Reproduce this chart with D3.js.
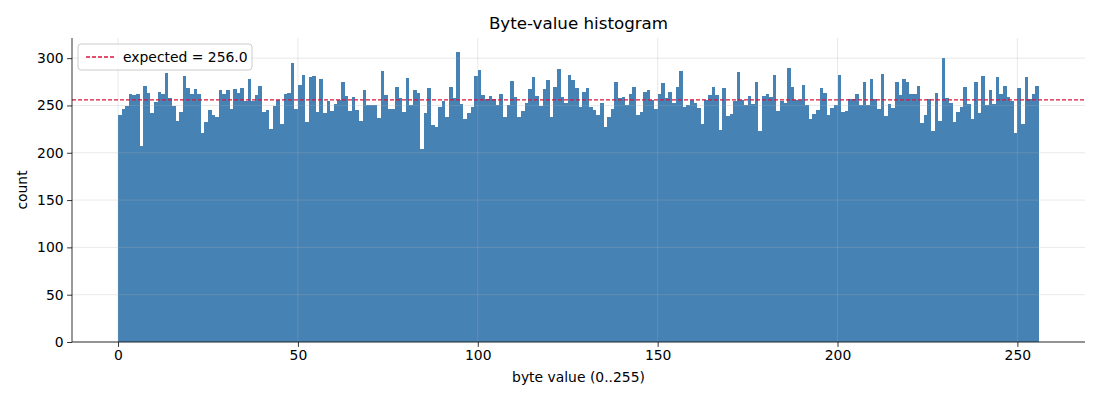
<!DOCTYPE html>
<html>
<head>
<meta charset="utf-8">
<script src="https://cdn.jsdelivr.net/npm/d3@7"></script>
<style>
  body { margin: 0; background: #fff; }
  svg { font-family: "DejaVu Sans", sans-serif; }
</style>
</head>
<body>
<svg id="chart"></svg>
<script>
// counts per byte value 0..255
const counts = [
  240, 246, 249, 262, 261, 262, 207, 271, 263, 242, 254, 264, 262, 284, 258, 249,
  234, 243, 281, 268, 262, 267, 262, 221, 232, 245, 240, 238, 266, 262, 266, 246,
  267, 263, 268, 255, 278, 255, 261, 271, 243, 245, 225, 249, 256, 230, 262, 263,
  295, 246, 272, 282, 233, 280, 281, 243, 278, 242, 255, 244, 252, 256, 275, 260,
  244, 259, 245, 234, 266, 251, 251, 251, 237, 286, 261, 246, 246, 270, 258, 243,
  279, 251, 266, 263, 204, 242, 268, 229, 227, 248, 255, 238, 270, 258, 306, 252,
  236, 242, 248, 281, 287, 261, 257, 260, 257, 251, 262, 238, 251, 276, 259, 238,
  244, 253, 267, 280, 260, 249, 267, 277, 238, 269, 289, 259, 253, 282, 277, 268,
  248, 264, 268, 248, 245, 240, 253, 227, 238, 246, 275, 258, 259, 251, 262, 269,
  240, 243, 264, 266, 256, 246, 262, 274, 258, 264, 253, 270, 286, 248, 251, 256,
  253, 247, 230, 256, 261, 269, 261, 224, 268, 239, 241, 255, 285, 256, 251, 260,
  252, 275, 223, 260, 262, 259, 282, 244, 255, 253, 290, 270, 256, 256, 272, 250,
  236, 241, 245, 268, 263, 240, 247, 250, 282, 243, 244, 257, 257, 262, 250, 275,
  250, 278, 257, 246, 283, 239, 252, 247, 275, 261, 278, 275, 262, 262, 271, 231,
  240, 257, 223, 263, 234, 300, 258, 253, 233, 243, 248, 269, 252, 236, 275, 242,
  281, 250, 266, 252, 280, 262, 271, 259, 255, 221, 268, 230, 280, 257, 262, 271
];
const expected = 256.0;
const xTicks = [0, 50, 100, 150, 200, 250];
const yTicks = [0, 50, 100, 150, 200, 250, 300];

const width = 1100;
const height = 400;
const margin = { top: 38, right: 15, bottom: 58, left: 72 };
const svg = d3.select("#chart").attr("width", width).attr("height", height);

const nBins = counts.length;
const xPad = nBins * 0.05;
const xScale = d3.scaleLinear()
  .domain([-xPad, nBins + xPad])
  .range([margin.left, width - margin.right]);

const yMax = d3.max(counts) * 1.05;
const yScale = d3.scaleLinear()
  .domain([0, yMax])
  .range([height - margin.bottom, margin.top]);

// bars, one per byte value
svg.append("g")
  .selectAll("rect")
  .data(counts)
  .enter()
  .append("rect")
  .attr("x", (d, i) => xScale(i))
  .attr("width", (d, i) => xScale(i + 1) - xScale(i))
  .attr("y", (d) => yScale(d))
  .attr("height", (d) => yScale(0) - yScale(d))
  .attr("fill", "#4682b4")
  .attr("shape-rendering", "crispEdges");

// grid drawn on top of the bars, faint
const grid = svg.append("g").attr("stroke", "#b0b0b0").attr("stroke-opacity", 0.35).attr("stroke-width", 0.8);
grid.selectAll("line.gx")
  .data(xTicks)
  .enter()
  .append("line")
  .attr("x1", (d) => xScale(d))
  .attr("x2", (d) => xScale(d))
  .attr("y1", margin.top)
  .attr("y2", height - margin.bottom);
grid.selectAll("line.gy")
  .data(yTicks)
  .enter()
  .append("line")
  .attr("x1", margin.left)
  .attr("x2", width - margin.right)
  .attr("y1", (d) => yScale(d))
  .attr("y2", (d) => yScale(d));

// expected count line
svg.append("line")
  .attr("x1", margin.left)
  .attr("x2", width - margin.right)
  .attr("y1", yScale(expected))
  .attr("y2", yScale(expected))
  .attr("stroke", "#dc143c")
  .attr("stroke-width", 1.3)
  .attr("stroke-dasharray", "4,2");

// axes
const xAxis = d3.axisBottom(xScale).tickValues(xTicks).tickSize(4.9).tickPadding(3.5);
const yAxis = d3.axisLeft(yScale).tickValues(yTicks).tickSize(4.9).tickPadding(3.5);

svg.append("g")
  .attr("transform", "translate(0," + (height - margin.bottom) + ")")
  .call(xAxis)
  .call((g) => g.select(".domain").attr("d", "M" + margin.left + ",0H" + (width - margin.right)));

svg.append("g")
  .attr("transform", "translate(" + margin.left + ",0)")
  .call(yAxis)
  .call((g) => g.select(".domain").attr("d", "M0," + margin.top + "V" + (height - margin.bottom)));

svg.selectAll(".tick text")
  .attr("font-family", "DejaVu Sans, sans-serif")
  .attr("font-size", "13.9px")
  .attr("fill", "#000");
svg.selectAll(".tick line").attr("stroke", "#000").attr("stroke-width", 0.8);
svg.selectAll(".domain").attr("stroke", "#000").attr("stroke-width", 0.8);

// title and labels
svg.append("text")
  .attr("x", (margin.left + width - margin.right) / 2)
  .attr("y", 29)
  .attr("text-anchor", "middle")
  .attr("font-size", "16.7px")
  .text("Byte-value histogram");

svg.append("text")
  .attr("x", (margin.left + width - margin.right) / 2)
  .attr("y", 382)
  .attr("text-anchor", "middle")
  .attr("font-size", "13.9px")
  .text("byte value (0..255)");

svg.append("text")
  .attr("transform", "translate(27," + (margin.top + height - margin.bottom) / 2 + ") rotate(-90)")
  .attr("text-anchor", "middle")
  .attr("font-size", "13.9px")
  .text("count");

// legend
const legend = svg.append("g").attr("transform", "translate(" + (margin.left + 6) + "," + (margin.top + 6) + ")");
legend.append("rect")
  .attr("width", 174)
  .attr("height", 26)
  .attr("rx", 3)
  .attr("fill", "#fff")
  .attr("fill-opacity", 0.8)
  .attr("stroke", "#cccccc")
  .attr("stroke-width", 1);
legend.append("line")
  .attr("x1", 8)
  .attr("x2", 36)
  .attr("y1", 13)
  .attr("y2", 13)
  .attr("stroke", "#dc143c")
  .attr("stroke-width", 1.3)
  .attr("stroke-dasharray", "4,2");
legend.append("text")
  .attr("x", 45)
  .attr("y", 18)
  .attr("font-size", "13.9px")
  .text("expected = " + expected.toFixed(1));
</script>
</body>
</html>
